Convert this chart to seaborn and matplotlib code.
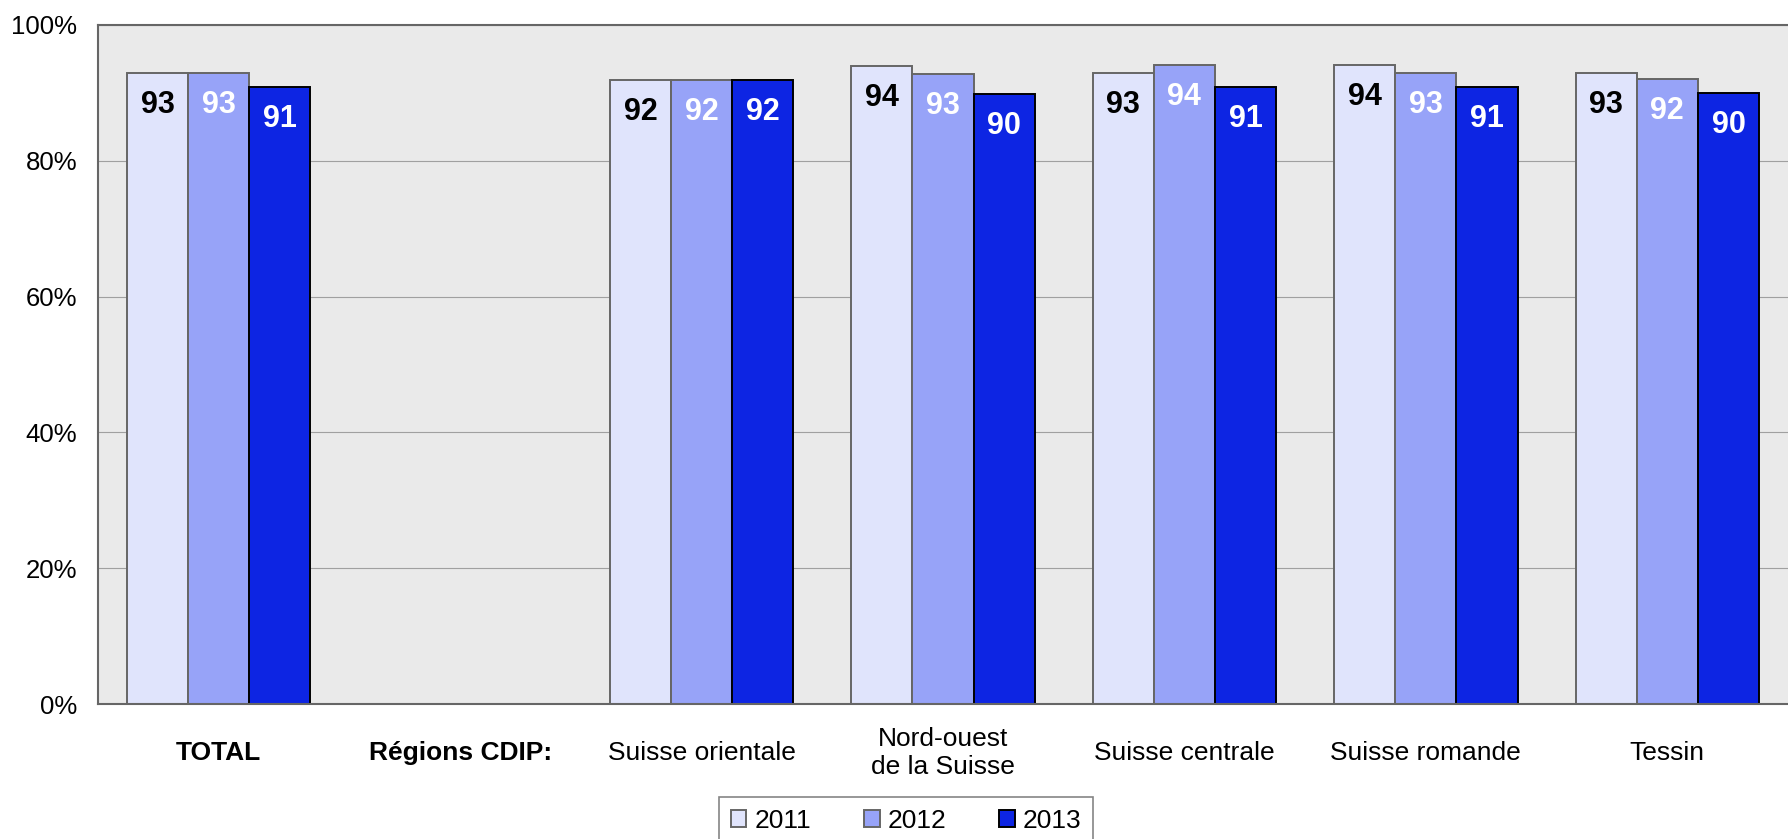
import pandas as pd
import matplotlib
matplotlib.use("Agg")
import matplotlib.pyplot as plt
import seaborn as sns

sns.set_theme(style="white")
plt.rcParams['font.family'] = ['Liberation Sans', 'DejaVu Sans']
plt.rcParams['text.color'] = 'black'
plt.rcParams['xtick.color'] = 'black'
plt.rcParams['ytick.color'] = 'black'

# data
regions = ["TOTAL", "Régions CDIP:", "Suisse orientale", "Nord-ouest\nde la Suisse",
           "Suisse centrale", "Suisse romande", "Tessin"]
years = ["2011", "2012", "2013"]
# the "Régions CDIP:" slot is only a heading, it has no bars
bar_regions = ["TOTAL", "Suisse orientale", "Nord-ouest\nde la Suisse",
               "Suisse centrale", "Suisse romande", "Tessin"]
v2011 = [92.9, 91.9, 94.0, 92.9, 94.1, 92.9]
v2012 = [92.9, 91.9, 92.8, 94.1, 92.9, 92.0]
v2013 = [90.9, 91.9, 89.9, 90.9, 90.9, 90.0]

fill = {"2011": "#E0E4FC", "2012": "#97A3F8", "2013": "#0D25E3"}
edge = {"2011": "#666666", "2012": "#666666", "2013": "#000000"}
label_col = {"2011": "black", "2012": "white", "2013": "white"}

df = pd.DataFrame({
    "region": bar_regions * 3,
    "year": ["2011"] * 6 + ["2012"] * 6 + ["2013"] * 6,
    "value": v2011 + v2012 + v2013,
})

fig = plt.figure(figsize=(17.88, 8.39), dpi=100)
ax = fig.add_axes([98 / 1788, 1 - 704 / 839, 1 - 98 / 1788, (704 - 25) / 839])
ax.set_facecolor("#EAEAEA")

sns.barplot(data=df, x="region", y="value", hue="year", order=regions,
            hue_order=years, palette=fill, width=0.76, saturation=1,
            errorbar=None, ax=ax, legend=True)

for cont, yr in zip(ax.containers, years):
    for p in cont.patches:
        p.set_edgecolor(edge[yr])
        p.set_linewidth(1.4)
        h = p.get_height()
        if pd.isna(h) or h == 0:
            continue
        ax.annotate(f"{h:.0f}", (p.get_x() + p.get_width() / 2, h),
                    xytext=(0, -23), textcoords="offset points",
                    ha="center", va="center", fontsize=22, fontweight="bold",
                    color=label_col[yr])

ax.set_ylim(0, 100)
ax.set_xlim(-0.5, 6.5)
ax.set_yticks([0, 20, 40, 60, 80, 100])
ax.set_yticklabels([f"{t}%" for t in [0, 20, 40, 60, 80, 100]], fontsize=18.5)
ax.yaxis.grid(True, color="#A0A0A0", linewidth=0.8)
ax.set_axisbelow(True)
ax.tick_params(axis="both", length=0)
ax.tick_params(axis="y", pad=15)
ax.tick_params(axis="x", pad=35)
ax.set_xlabel("")
ax.set_ylabel("")
for lab in ax.get_xticklabels():
    lab.set_fontsize(19)
    lab.set_verticalalignment("center")
    lab.set_multialignment("center")
    if lab.get_text() in ("TOTAL", "Régions CDIP:"):
        lab.set_fontweight("bold")

for side in ["left", "top", "bottom"]:
    ax.spines[side].set_color("#666666")
    ax.spines[side].set_linewidth(1.5)
ax.spines["right"].set_visible(False)

# legend below the axis, partly cut by the figure edge
handles, labels = ax.get_legend_handles_labels()
ax.get_legend().remove()
for h, yr in zip(handles, years):
    h.set_edgecolor(edge[yr])
    h.set_linewidth(1.4)
leg = fig.legend(handles, labels, loc="upper center", ncol=3,
                 bbox_to_anchor=(906 / 1788, 1 - 797 / 839),
                 fontsize=19, frameon=True, fancybox=False, borderaxespad=0,
                 handlelength=0.6, handleheight=0.6, handletextpad=0.3,
                 columnspacing=2.0, borderpad=0.45)
leg.get_frame().set_edgecolor("#666666")
leg.get_frame().set_linewidth(1.2)

fig.savefig("out.png", dpi=100)
